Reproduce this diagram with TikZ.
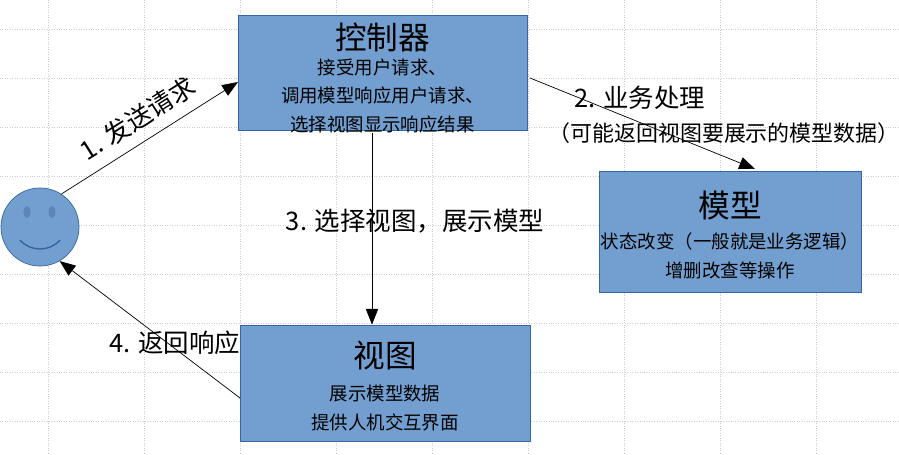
\documentclass[tikz,border=0pt]{standalone}
\usepackage{fontspec}
\setmainfont{Noto Sans CJK SC}
\usetikzlibrary{arrows.meta}
\definecolor{boxfill}{RGB}{114,159,207}
\definecolor{boxline}{RGB}{52,101,164}
\begin{document}
\begin{tikzpicture}[
    x=0.02cm, y=-0.02cm,
    box/.style={rectangle, draw=boxline, fill=boxfill, inner sep=0pt, align=center},
    msg/.style={-{Triangle[length=9pt,width=7pt]}, black, thin},
    lbl/.style={font=\fontsize{14.5}{17}\selectfont},
    ttl/.style={font=\fontsize{18}{21}\selectfont},
    body/.style={font=\fontsize{10.5}{16.5}\selectfont, align=center}
]
    % background
    \useasboundingbox (0,0) rectangle (899,454);
    \fill[white] (0,0) rectangle (899,454);
    \foreach \x in {48,144,...,899} {
        \draw[gray!40, densely dotted] (\x,0) -- (\x,454);
    }
    \foreach \y in {29,78,...,454} {
        \draw[gray!40, densely dotted] (0,\y) -- (899,\y);
    }

    % boxes
    \node[box, minimum width=5.78cm, minimum height=2.3cm] (ctrl) at (382.5,72.5) {};
    \node[ttl] (ctrlname) at (382.5,37) {控制器};
    \node[body] (ctrltext) at (382.5,96) {接受用户请求、\\调用模型响应用户请求、\\选择视图显示响应结果};

    \node[box, minimum width=5.24cm, minimum height=2.42cm] (model) at (730,231.5) {};
    \node[ttl] (modelname) at (730,205) {模型};
    \node[body] (modeltext) at (730,256) {状态改变（一般就是业务逻辑）\\增删改查等操作};

    \node[box, minimum width=5.8cm, minimum height=2.32cm] (view) at (385,383) {};
    \node[ttl] (viewname) at (385,356) {视图};
    \node[body] (viewtext) at (385,408) {展示模型数据\\提供人机交互界面};

    % user
    \node[circle, draw=boxline, fill=boxfill, minimum size=1.56cm, inner sep=0pt] (user) at (40,227) {};
    \fill[boxline!80] (27,212) ellipse (3.5 and 6);
    \fill[boxline!80] (52,212) ellipse (3.5 and 6);
    \draw[boxline, thick] (20,240) .. controls (30,252) and (50,252) .. (60,240);

    % messages
    \coordinate (c1) at (238,82);
    \coordinate (c2) at (530,78);
    \coordinate (m2) at (755,169);
    \coordinate (c3) at (372,133);
    \coordinate (v4) at (240,398);
    \draw[msg] (user.57) -- (c1) node[midway, sloped, above=3pt, lbl] {1. 发送请求};
    \draw[msg] (c2) -- (m2);
    \node[lbl] (t2) at (640,98) {2. 业务处理};
    \node[font=\fontsize{12.5}{15}\selectfont, inner sep=0pt] (t2b) at (724,133) {（可能返回视图要展示的模型数据）};
    \draw[msg] (c3) -- (view.north -| c3);
    \node[lbl] (t3) at (415,221) {3. 选择视图，展示模型};
    \draw[msg] (v4) -- (user.-60);
    \node[lbl] (t4) at (175,343) {4. 返回响应};
\end{tikzpicture}
\end{document}
